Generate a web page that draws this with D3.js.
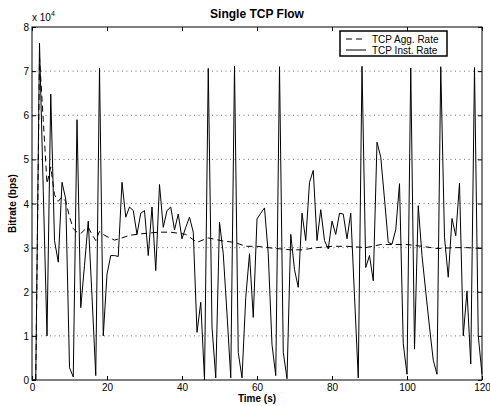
<!DOCTYPE html>
<html>
<head>
<meta charset="utf-8">
<script src="https://cdn.jsdelivr.net/npm/d3@7"></script>
<style>
  body { margin: 0; background: #fff; }
  svg { font-family: "Liberation Sans", Arial, sans-serif; }
  .grid line { stroke: #444; stroke-dasharray: 1 3.5; stroke-width: 0.8; }
</style>
</head>
<body>
<div id="chart"></div>
<script>
// instantaneous rate, one sample per second (x 10^4 bps)
const instTime = d3.range(0, 121);
const instRate = [
  0, 0, 7.63, 4.3, 1.0, 6.48, 3.16, 2.67, 4.48, 4.1,
  0.28, 0.07, 5.9, 1.64, 2.6, 3.6, 1.9, 0.1, 7.07, 1.0,
  2.4, 2.82, 2.82, 2.8, 4.48, 3.69, 3.92, 3.84, 3.3, 3.78,
  3.84, 2.82, 3.92, 2.48, 4.43, 3.46, 3.84, 3.92, 3.4, 3.76,
  3.2, 3.46, 3.69, 3.35, 1.08, 1.76, 0.0, 7.06, 1.2, 0.05,
  3.58, 2.86, 1.5, 0.05, 7.11, 0.62, 0.05, 1.87, 2.86, 1.42,
  3.65, 3.78, 3.9, 2.86, 0.8, 0.1, 7.1, 0.63, 0.03, 3.3,
  2.5, 2.1, 3.78, 3.16, 4.48, 4.75, 3.16, 3.86, 3.16, 2.97,
  3.6, 3.3, 3.78, 3.76, 3.2, 3.78, 1.9, 0.05, 7.11, 2.55,
  2.82, 2.25, 5.39, 5.05, 4.1, 3.12, 3.08, 3.41, 4.45, 0.82,
  0.13, 7.07, 0.7, 3.95, 2.82, 2.0, 1.2, 0.45, 0.13, 7.1,
  3.23, 2.33, 3.66, 3.27, 4.46, 1.0, 2.02, 0.36, 7.08, 1.0,
  0.13
];

// aggregate (running) rate
const aggTime = [1, 2, 3, 4, 5, 6, 7, 8, 9, 10, 11, 12, 13, 14, 15, 16, 17, 18, 19, 20,
  22, 24, 26, 28, 31, 34, 37, 41, 44, 47, 51, 54, 57, 60, 65, 69, 72, 76, 80, 84,
  89, 93, 96, 100, 104, 108, 113, 116, 120];
const aggRate = [0, 7.3, 5.9, 4.45, 4.83, 4.2, 4.05, 4.15, 4.05, 3.7, 3.43, 3.35, 3.32, 3.4, 3.46, 3.3, 3.16, 3.37, 3.3, 3.25,
  3.17, 3.22, 3.28, 3.3, 3.33, 3.35, 3.35, 3.3, 3.12, 3.22, 3.15, 3.12, 3.03, 3.03, 2.98, 2.95, 2.95, 3.0, 3.03, 3.03,
  3.0, 3.07, 3.07, 3.07, 3.03, 2.98, 3.0, 3.0, 2.98];

const xTicks = [0, 20, 40, 60, 80, 100, 120];
const yTicks = [0, 1, 2, 3, 4, 5, 6, 7, 8];

const width = 490, height = 406;
const margin = {left: 32, right: 8, top: 27, bottom: 26};

const svg = d3.select('#chart')
  .append('svg')
  .attr('width', width)
  .attr('height', height);

const x = d3.scaleLinear().domain([0, 120]).range([margin.left, width - margin.right]);
const y = d3.scaleLinear().domain([0, 8]).range([height - margin.bottom, margin.top]);

// horizontal dotted grid
svg.append('g')
  .attr('class', 'grid')
  .selectAll('line')
  .data(yTicks.slice(1, -1))
  .enter()
  .append('line')
    .attr('x1', x(0))
    .attr('x2', x(120))
    .attr('y1', d => y(d))
    .attr('y2', d => y(d));

// axes, ticks pointing inward like matlab
const tickLen = 4;
const bottomAxis = svg.append('g')
  .attr('transform', `translate(0,${y(0)})`)
  .call(d3.axisBottom(x).tickValues(xTicks).tickSizeInner(-tickLen).tickSizeOuter(0).tickPadding(4));
const topAxis = svg.append('g')
  .attr('transform', `translate(0,${y(8)})`)
  .call(d3.axisTop(x).tickValues(xTicks).tickSizeInner(-tickLen).tickSizeOuter(0).tickFormat(''));
const leftAxis = svg.append('g')
  .attr('transform', `translate(${x(0)},0)`)
  .call(d3.axisLeft(y).tickValues(yTicks).tickSizeInner(-tickLen).tickSizeOuter(0).tickPadding(3));
const rightAxis = svg.append('g')
  .attr('transform', `translate(${x(120)},0)`)
  .call(d3.axisRight(y).tickValues(yTicks).tickSizeInner(-tickLen).tickSizeOuter(0).tickFormat(''));

[bottomAxis, topAxis, leftAxis, rightAxis].forEach(a => {
  a.select('.domain').remove();
  a.selectAll('line').attr('stroke', '#000');
  a.selectAll('text').attr('font-size', 10).attr('fill', '#000').attr('font-family', '"Liberation Sans", Arial, sans-serif');
});
leftAxis.selectAll('text').attr('dy', '0.35em');

// lines
const inst = instTime.map((t, i) => [t, instRate[i]]);
const agg = aggTime.map((t, i) => [t, aggRate[i]]);
const line = d3.line().x(d => x(d[0])).y(d => y(d[1]));

svg.append('path')
  .datum(agg)
  .attr('d', line)
  .attr('fill', 'none')
  .attr('stroke', '#000')
  .attr('stroke-width', 1)
  .attr('stroke-dasharray', '6 4');

svg.append('path')
  .datum(inst)
  .attr('d', line)
  .attr('fill', 'none')
  .attr('stroke', '#000')
  .attr('stroke-width', 1);

// frame
svg.append('rect')
  .attr('x', x(0))
  .attr('y', y(8))
  .attr('width', x(120) - x(0))
  .attr('height', y(0) - y(8))
  .attr('fill', 'none')
  .attr('stroke', '#000')
  .attr('stroke-width', 1);

// legend
const legend = svg.append('g').attr('transform', 'translate(340,31)');
legend.append('rect')
  .attr('width', 107)
  .attr('height', 25)
  .attr('fill', '#fff')
  .attr('stroke', '#000')
  .attr('stroke-width', 1.5);
const legendItems = [
  {label: 'TCP Agg. Rate', dash: '6 4'},
  {label: 'TCP Inst. Rate', dash: null}
];
legendItems.forEach((d, i) => {
  const yy = 8 + i * 11;
  legend.append('line')
    .attr('x1', 6).attr('x2', 26)
    .attr('y1', yy).attr('y2', yy)
    .attr('stroke', '#000')
    .attr('stroke-dasharray', d.dash);
  legend.append('text')
    .text(d.label)
    .attr('x', 32)
    .attr('y', yy)
    .attr('dy', '0.35em')
    .attr('font-size', 10);
});

// titles
svg.append('text')
  .text('Single TCP Flow')
  .attr('x', (x(0) + x(120)) / 2)
  .attr('y', 18)
  .attr('text-anchor', 'middle')
  .attr('font-size', 12)
  .attr('font-weight', 'bold');

svg.append('text')
  .text('Time (s)')
  .attr('x', (x(0) + x(120)) / 2)
  .attr('y', 402)
  .attr('text-anchor', 'middle')
  .attr('font-size', 10)
  .attr('font-weight', 'bold');

svg.append('text')
  .text('Bitrate (bps)')
  .attr('transform', `translate(16,${(y(0) + y(8)) / 2}) rotate(-90)`)
  .attr('text-anchor', 'middle')
  .attr('font-size', 10)
  .attr('font-weight', 'bold');

const mult = svg.append('text')
  .attr('x', 32)
  .attr('y', 21)
  .attr('font-size', 10);
mult.append('tspan').text('x 10');
mult.append('tspan').text('4').attr('font-size', 7).attr('dy', -5);
</script>
</body>
</html>
